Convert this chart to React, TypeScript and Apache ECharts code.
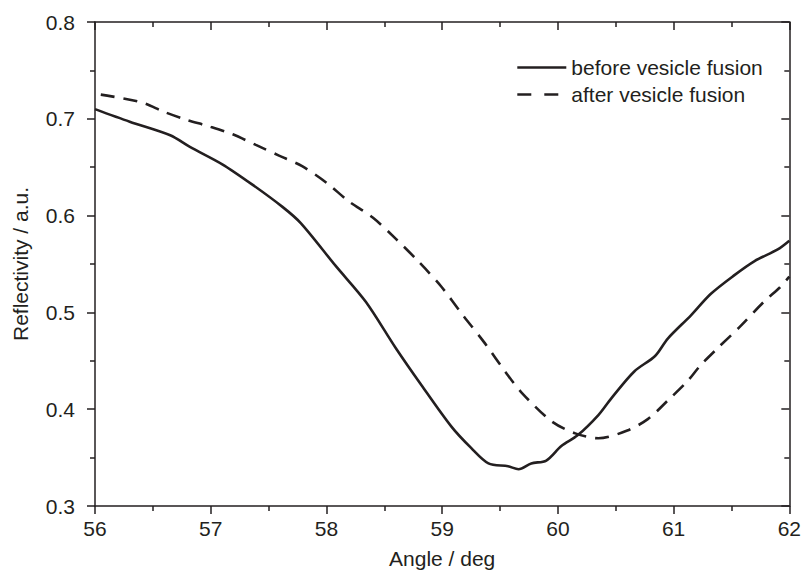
import React, { useEffect, useRef } from "react";
import * as echarts from "echarts";

const beforeAngle = [56.0, 56.3, 56.65, 56.82, 57.1, 57.36, 57.62, 57.78, 58.08, 58.34, 58.6, 58.82, 59.08, 59.25, 59.4, 59.57, 59.66, 59.77, 59.9, 60.03, 60.17, 60.35, 60.46, 60.66, 60.84, 60.95, 61.15, 61.32, 61.52, 61.7, 61.9, 62.0];
const beforeRefl = [0.71, 0.697, 0.683, 0.671, 0.653, 0.632, 0.609, 0.592, 0.548, 0.511, 0.463, 0.425, 0.382, 0.36, 0.344, 0.341, 0.338, 0.344, 0.347, 0.362, 0.373, 0.394, 0.411, 0.439, 0.455, 0.473, 0.497, 0.519, 0.538, 0.553, 0.565, 0.574];

const afterAngle = [56.05, 56.4, 56.6, 56.79, 56.99, 57.19, 57.39, 57.59, 57.79, 58.0, 58.19, 58.4, 58.6, 58.8, 58.99, 59.18, 59.37, 59.55, 59.68, 59.94, 60.15, 60.35, 60.6, 60.78, 60.95, 61.12, 61.23, 61.38, 61.58, 61.78, 61.92, 62.0];
const afterRefl = [0.725, 0.717, 0.707, 0.699, 0.692, 0.684, 0.673, 0.662, 0.651, 0.634, 0.615, 0.598, 0.576, 0.552, 0.527, 0.497, 0.468, 0.438, 0.418, 0.388, 0.375, 0.37, 0.378, 0.39, 0.409, 0.429, 0.445, 0.463, 0.486, 0.511, 0.526, 0.537];

const seriesNames = ["before vesicle fusion", "after vesicle fusion"];
const xName = "Angle / deg";
const yName = "Reflectivity / a.u.";

const FONT = "'Liberation Sans', Arial, sans-serif";
const INK = "#231f20";
const FS = 21;

export default function App() {
  const ref = useRef<HTMLDivElement>(null);
  useEffect(() => {
    if (!ref.current) return;
    const chart = echarts.init(ref.current, null, { renderer: "svg" });
    const axisLine = { show: true, lineStyle: { color: INK, width: 1.5 } };
    const label = { color: INK, fontSize: FS, fontFamily: FONT };
    const tick = (inside: boolean) => ({ show: true, inside, length: 8, lineStyle: { color: INK, width: 1.5 } });
    const minor = { show: true, splitNumber: 2, length: 5, lineStyle: { color: INK, width: 1.5 } };
    chart.setOption({
      animation: false,
      backgroundColor: "#ffffff",
      textStyle: { fontFamily: FONT },
      grid: { left: 95, right: 12, top: 22, bottom: 66, containLabel: false },
      legend: {
        orient: "vertical",
        left: 511,
        top: 52,
        itemWidth: 49,
        itemHeight: 21,
        itemGap: 6,
        itemStyle: { opacity: 0, borderWidth: 0 },
        lineStyle: { width: 2.6, color: INK },
        textStyle: { color: INK, fontSize: FS, fontFamily: FONT },
        data: [
          { name: seriesNames[0] },
          { name: seriesNames[1], lineStyle: { type: [14, 13], width: 2.6, color: INK } },
        ],
      },
      xAxis: [
        {
          type: "value",
          min: 56,
          max: 62,
          interval: 1,
          position: "bottom",
          name: xName,
          nameLocation: "middle",
          nameGap: 42,
          nameTextStyle: { ...label },
          axisLine,
          axisTick: tick(false),
          minorTick: minor,
          axisLabel: { ...label, margin: 12 },
          splitLine: { show: false },
        },
        {
          type: "value",
          min: 56,
          max: 62,
          interval: 1,
          position: "top",
          axisLine,
          axisTick: tick(true),
          minorTick: minor,
          axisLabel: { show: false },
          splitLine: { show: false },
        },
      ],
      yAxis: [
        {
          type: "value",
          min: 0.3,
          max: 0.8,
          interval: 0.1,
          position: "left",
          name: yName,
          nameLocation: "middle",
          nameGap: 64,
          nameRotate: 90,
          nameTextStyle: { ...label },
          axisLine,
          axisTick: tick(false),
          minorTick: minor,
          axisLabel: { ...label, margin: 20, formatter: (v: number) => v.toFixed(1) },
          splitLine: { show: false },
        },
        {
          type: "value",
          min: 0.3,
          max: 0.8,
          interval: 0.1,
          position: "right",
          axisLine,
          axisTick: tick(true),
          minorTick: minor,
          axisLabel: { show: false },
          splitLine: { show: false },
        },
      ],
      series: [
        {
          name: seriesNames[0],
          type: "line",
          xAxisIndex: 0,
          yAxisIndex: 0,
          data: beforeAngle.map((a, i) => [a, beforeRefl[i]]),
          showSymbol: false,
          symbol: "none",
          smooth: 0.3,
          lineStyle: { color: INK, width: 2.6, type: "solid" },
          itemStyle: { color: INK },
        },
        {
          name: seriesNames[1],
          type: "line",
          xAxisIndex: 0,
          yAxisIndex: 0,
          data: afterAngle.map((a, i) => [a, afterRefl[i]]),
          showSymbol: false,
          symbol: "none",
          smooth: 0.3,
          lineStyle: { color: INK, width: 2.6, type: [14, 9] },
          itemStyle: { color: INK },
        },
      ],
    });
    return () => chart.dispose();
  }, []);
  return <div ref={ref} style={{ width: 804, height: 574, position: "absolute", left: 0, top: 0 }} />;
}
